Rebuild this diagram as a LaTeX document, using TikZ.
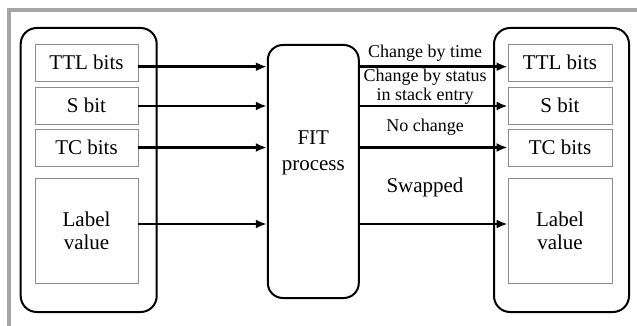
\documentclass[tikz,border=0pt]{standalone}
\usepackage{fontspec}
\setmainfont{Liberation Serif}
\usetikzlibrary{arrows.meta}

\tikzset{
    field/.style={draw=black!45, line width=0.9pt, minimum width=103pt, inner sep=0pt, align=center, font=\fontsize{21}{23}\selectfont},
    holder/.style={draw, line width=2pt, rounded corners=16pt, minimum width=136pt, minimum height=284pt},
    flow/.style={-{Latex[length=11pt,width=9pt]}, line width=2.6pt},
    note/.style={align=center, font=\fontsize{18}{19}\selectfont}
}

\begin{document}
\begin{tikzpicture}[x=1pt, y=-1pt]
    \useasboundingbox (0,0) rectangle (637,326);

    % Grey frame
    \fill[black!35] (7,8) rectangle (637,12);
    \fill[black!35] (7,8) rectangle (11,326);

    % Incoming label stack entry
    \node[holder] (inbox) at (88.7,170) {};
    \node[field, minimum height=37pt] (inttl) at (86.5,62.5) {TTL bits};
    \node[field, minimum height=37pt] (ins) at (86.5,105.5) {S bit};
    \node[field, minimum height=37pt] (intc) at (86.5,147.5) {TC bits};
    \node[field, minimum height=105pt] (inlabel) at (86.5,230.5) {Label\\value};

    % FIT process
    \node[draw, line width=2pt, rounded corners=15pt, minimum width=91pt, minimum height=253pt] (fit) at (313.3,171.5) {};
    \node[align=center, font=\fontsize{21}{26}\selectfont] (fittext) at (313.3,153) {FIT\\process};

    % Outgoing label stack entry
    \node[holder, minimum width=135pt] (outbox) at (561.5,170) {};
    \node[field, minimum width=104pt, minimum height=37pt] (outttl) at (560,62.5) {TTL bits};
    \node[field, minimum width=104pt, minimum height=37pt] (outs) at (560,105.5) {S bit};
    \node[field, minimum width=104pt, minimum height=37pt] (outtc) at (560,147.5) {TC bits};
    \node[field, minimum width=104pt, minimum height=105pt] (outlabel) at (560,230.5) {Label\\value};

    % Arrows into FIT
    \draw[flow] ([yshift=-4.2pt]inttl.east) -- ([yshift=-4.2pt]inttl.east -| fit.west);
    \draw[flow] ([yshift=-0.5pt]ins.east) -- ([yshift=-0.5pt]ins.east -| fit.west);
    \draw[flow] (intc.east) -- (intc.east -| fit.west);
    \draw[flow] ([yshift=6.5pt]inlabel.east) -- ([yshift=6.5pt]inlabel.east -| fit.west);

    % Arrows out of FIT
    \draw[flow] (fit.east |- outttl.west) ++(0,4.2) -- ([yshift=-4.2pt]outttl.west);
    \draw[flow] (fit.east |- outs.west) ++(0,0.5) -- ([yshift=-0.5pt]outs.west);
    \draw[flow] (fit.east |- outtc.west) -- (outtc.west);
    \draw[flow] (fit.east |- outlabel.west) ++(0,-6.5) -- ([yshift=6.5pt]outlabel.west);

    % What happens to each field
    \node[note] (bytime) at (425,53) {Change by time};
    \node[note] (bystatus) at (425,86.5) {Change by status\\in stack entry};
    \node[note] (nochange) at (425,127) {No change};
    \node[note, font=\fontsize{21}{23}\selectfont] (swapped) at (425,187) {Swapped};
\end{tikzpicture}
\end{document}
